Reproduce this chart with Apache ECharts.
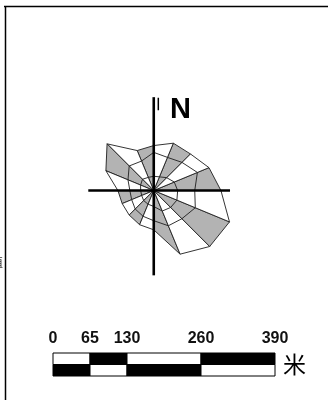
<!DOCTYPE html>
<html>
<head>
<meta charset="utf-8">
<script src="https://cdn.jsdelivr.net/npm/echarts@6/dist/echarts.min.js"></script>
<style>
  html, body { margin: 0; background: #fff; }
  #chart { width: 328px; height: 400px; }
</style>
</head>
<body>
<div id="chart"></div>
<script>
// spokes, degrees counter-clockwise from east
const dirAngles = [0, 22.5, 45, 67.5, 90, 112.5, 135, 157.5, 180, 202.5, 225, 247.5, 270, 292.5, 315, 337.5];
// rose radii at each spoke (metres on the map)
const outerR = [118, 105, 91, 90, 79, 76, 116, 91, 63, 60, 61, 65, 69, 121, 139, 144];
const midR   = [72, 83, 70, 63, 67, 56, 61, 49, 42, 42, 46, 49, 53, 67, 70, 79];
const innerR = [42, 39, 32, 26, 25, 25, 28, 25, 23, 23, 25, 26, 28, 39, 42, 44];
const roseCenter = [177, 368];
// scale bar
const scaleTicks = [0, 65, 130, 260, 390];
const scaleUnit = '米';

const pxPerM = 222 / 390;   // same scale on both axes
const gray = '#b3b3b3';

const sectorData = dirAngles.map((a, i) => [a, outerR[i], midR[i], innerR[i]]);

const barData = [];
for (let k = 0; k < scaleTicks.length - 1; k++) {
  for (let row = 0; row < 2; row++) {
    barData.push([scaleTicks[k], scaleTicks[k + 1], row, (k + row) % 2]);
  }
}

function pt(api, ang, r) {
  const a = ang * Math.PI / 180;
  return api.coord([roseCenter[0] + r * Math.cos(a), roseCenter[1] + r * Math.sin(a)]);
}

function renderSector(params, api) {
  const n = dirAngles.length;
  const j = (params.dataIndexInside + 1) % n;
  const a0 = api.value(0), a1 = api.value(0, j);
  const c = api.coord(roseCenter);
  const o0 = pt(api, a0, api.value(1)), o1 = pt(api, a1, api.value(1, j));
  const m0 = pt(api, a0, api.value(2)), m1 = pt(api, a1, api.value(2, j));
  const i0 = pt(api, a0, api.value(3)), i1 = pt(api, a1, api.value(3, j));
  const line = { stroke: '#1e1e1e', lineWidth: 0.9 };
  return {
    type: 'group',
    children: [
      { type: 'polygon', shape: { points: [c, o0, o1] },
        style: { fill: params.dataIndex % 2 === 0 ? gray : '#fff', stroke: '#1e1e1e', lineWidth: 0.9 } },
      { type: 'line', shape: { x1: m0[0], y1: m0[1], x2: m1[0], y2: m1[1] }, style: line },
      { type: 'line', shape: { x1: i0[0], y1: i0[1], x2: i1[0], y2: i1[1] }, style: line }
    ]
  };
}

function renderCross(params, api) {
  const c = api.coord(roseCenter);
  const l = api.coord([roseCenter[0] - 115, roseCenter[1]]);
  const r = api.coord([roseCenter[0] + 134, roseCenter[1]]);
  const u = api.coord([roseCenter[0], roseCenter[1] + 164]);
  const d = api.coord([roseCenter[0], roseCenter[1] - 149]);
  const t0 = api.coord([roseCenter[0] + 8, roseCenter[1] + 163]);
  const t1 = api.coord([roseCenter[0] + 8, roseCenter[1] + 141]);
  const nPos = api.coord([roseCenter[0] + 47, roseCenter[1] + 141]);
  const s = { stroke: '#000', lineWidth: 2.6 };
  return {
    type: 'group',
    children: [
      { type: 'line', shape: { x1: l[0], y1: c[1], x2: r[0], y2: c[1] }, style: s },
      { type: 'line', shape: { x1: c[0], y1: u[1], x2: c[0], y2: d[1] }, style: s },
      { type: 'line', shape: { x1: t0[0], y1: t0[1], x2: t1[0], y2: t1[1] }, style: { stroke: '#000', lineWidth: 1.5 } },
      { type: 'text', x: nPos[0], y: nPos[1],
        style: { text: 'N', fill: '#000', font: 'bold 29px "Liberation Sans", Arial, sans-serif', align: 'center', verticalAlign: 'middle' } }
    ]
  };
}

function renderBar(params, api) {
  const p0 = api.coord([api.value(0), 2 - api.value(2)]);
  const p1 = api.coord([api.value(1), 1 - api.value(2)]);
  return {
    type: 'rect',
    shape: { x: p0[0], y: p0[1], width: p1[0] - p0[0], height: p1[1] - p0[1] },
    style: { fill: api.value(3) ? '#000' : '#fff', stroke: '#000', lineWidth: 1 }
  };
}

const chart = echarts.init(document.getElementById('chart'));
chart.setOption({
  animation: false,
  grid: [
    { left: 53, right: 53, top: 0, bottom: 0 },
    { left: 53, right: 53, top: 353, height: 23 }
  ],
  xAxis: [
    { gridIndex: 0, type: 'value', min: 0, max: 390, show: false },
    { gridIndex: 1, type: 'value', min: 0, max: 390, position: 'top',
      axisLine: { show: false }, axisTick: { show: false }, splitLine: { show: false },
      axisLabel: { customValues: scaleTicks, margin: 6, fontSize: 16, fontWeight: 'bold', color: '#111',
        fontFamily: '"Liberation Sans", Arial, sans-serif' } }
  ],
  yAxis: [
    { gridIndex: 0, type: 'value', min: 0, max: 400 / pxPerM, show: false },
    { gridIndex: 1, type: 'value', min: 0, max: 2, show: false }
  ],
  series: [
    { type: 'custom', xAxisIndex: 0, yAxisIndex: 0, clip: false, renderItem: renderSector, data: sectorData, z: 2 },
    { type: 'custom', xAxisIndex: 0, yAxisIndex: 0, clip: false, renderItem: renderCross, data: [[0]], z: 3 },
    { type: 'custom', xAxisIndex: 1, yAxisIndex: 1, clip: false, renderItem: renderBar, data: barData, z: 2 }
  ],
  graphic: [
    { type: 'line', shape: { x1: 4, y1: 6.5, x2: 328, y2: 6.5 }, style: { stroke: '#000', lineWidth: 1.5 } },
    { type: 'line', shape: { x1: 5.5, y1: 6, x2: 5.5, y2: 400 }, style: { stroke: '#000', lineWidth: 1.5 } },
    { type: 'text', left: -9, top: 256, style: { text: '值', fontSize: 12, fill: '#333',
      fontFamily: '"Noto Sans CJK SC", sans-serif' } },
    { type: 'text', left: 283, top: 353, style: { text: scaleUnit, fontSize: 23, fill: '#000',
      fontFamily: '"Noto Sans CJK SC", sans-serif' } }
  ]
});
</script>
</body>
</html>
